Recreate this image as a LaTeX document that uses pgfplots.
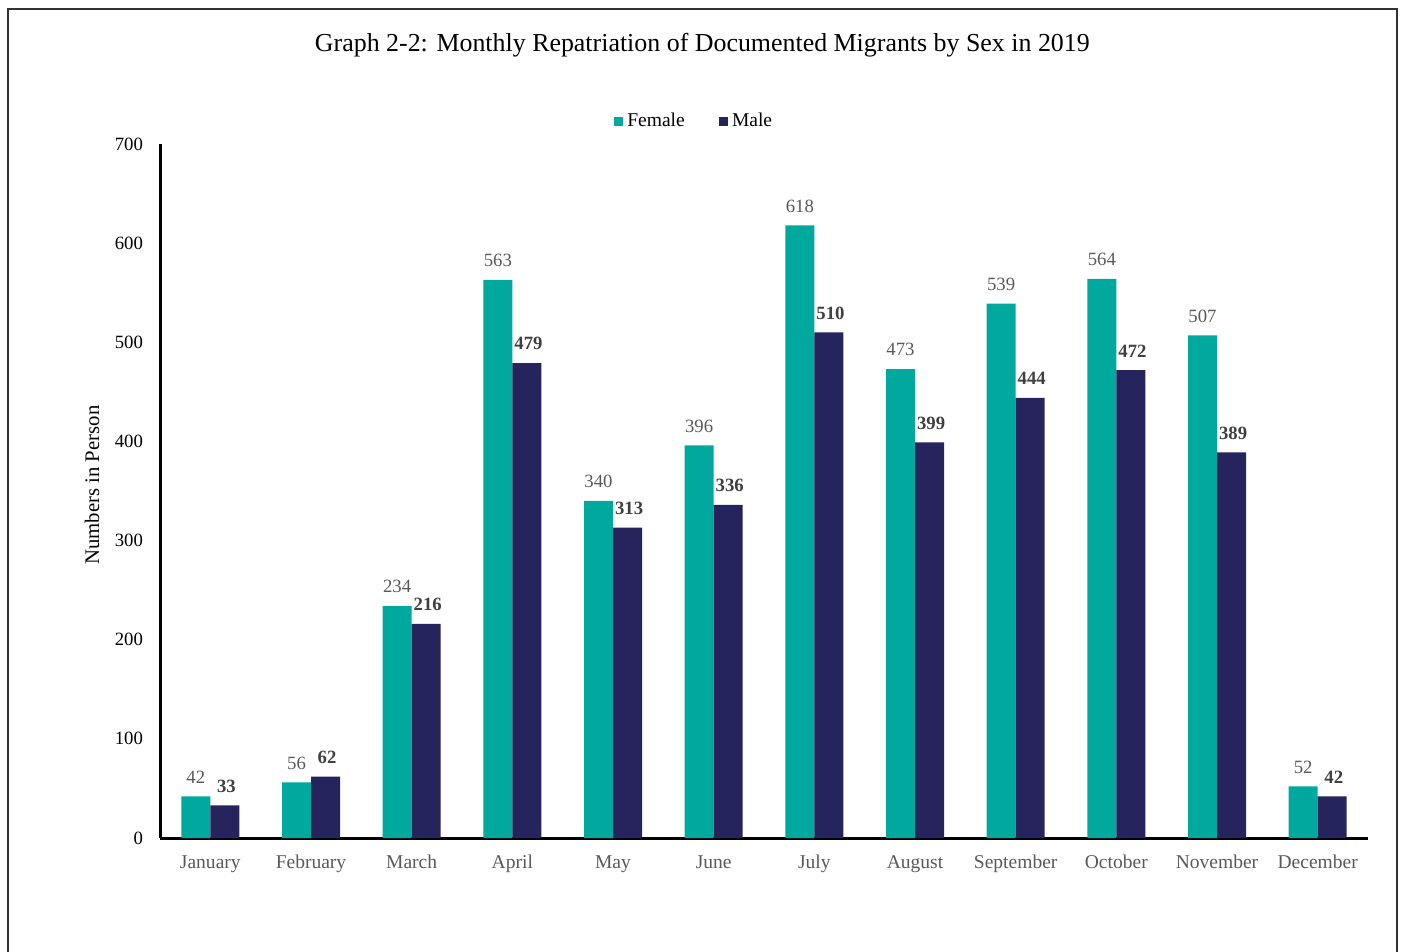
\documentclass[border=0pt]{standalone}
\usepackage{fontspec}
\setmainfont{Liberation Serif}
\usepackage{pgfplots}
\pgfplotsset{compat=1.18}
\definecolor{fem}{RGB}{0,168,157}
\definecolor{mal}{RGB}{38,36,92}
\definecolor{lab}{RGB}{89,89,89}
\definecolor{labm}{RGB}{64,64,64}
\begin{document}
\begin{tikzpicture}
\path[use as bounding box] (-80bp,-57bp) rectangle (620.5bp,419bp);
\draw[line width=1.2bp, color=black!80] (-76bp,-60bp) -- (-76bp,414.5bp) -- (618.5bp,414.5bp) -- (618.5bp,-60bp);
\begin{axis}[
  at={(0,0)}, anchor=south west,
  scale only axis, width=604bp, height=347bp,
  xmin=-0.5, xmax=11.5, ymin=0, ymax=700,
  ytick={0,100,...,700},
  xtick={0,...,11},
  xticklabels={January,February,March,April,May,June,July,August,September,October,November,December},
  axis lines*=left,
  axis line style={line width=1.5bp, black},
  major tick length=0pt,
  /pgf/number format/assume math mode=true,
  yticklabel style={font=\fontsize{9.4}{11}\selectfont, xshift=-5bp, black},
  xticklabel style={font=\fontsize{9.8}{11}\selectfont, yshift=-4.5bp, color=lab, text height=7bp, text depth=2bp},
  ylabel={Numbers in Person},
  ylabel style={at={(axis description cs:-0.0563,0.5086)}, anchor=center, font=\fontsize{10.4}{12}\selectfont},
  title={Graph 2-2: Monthly Repatriation of Documented Migrants by Sex in 2019},
  title style={at={(axis description cs:0.449,1.1253)}, anchor=center, font=\fontsize{13}{15}\selectfont},
  ybar=0pt, bar width=14.5bp,
  legend style={at={(axis description cs:0.443,1.033)}, anchor=center, draw=none, fill=none,
    legend columns=2, font=\fontsize{9.8}{11}\selectfont,
    /tikz/every even column/.append style={column sep=15bp}},
  legend image code/.code={\fill[#1] (0bp,-2.3bp) rectangle (4.6bp,2.3bp);},
]
\addplot[fill=fem, draw=none, nodes near coords,
  nodes near coords style={font=\fontsize{9.4}{11}\selectfont, color=lab, yshift=3bp}]
  coordinates {(0,42) (1,56) (2,234) (3,563) (4,340) (5,396) (6,618) (7,473) (8,539) (9,564) (10,507) (11,52)};
\addplot[fill=mal, draw=none, nodes near coords,
  nodes near coords style={font=\fontsize{9.4}{11}\selectfont\bfseries, color=labm, yshift=3bp, xshift=0.8bp}]
  coordinates {(0,33) (1,62) (2,216) (3,479) (4,313) (5,336) (6,510) (7,399) (8,444) (9,472) (10,389) (11,42)};
\legend{Female,Male}
\end{axis}
\end{tikzpicture}
\end{document}
